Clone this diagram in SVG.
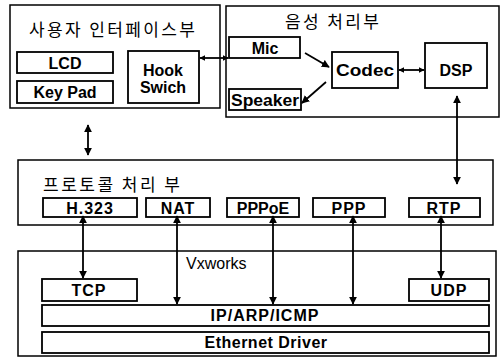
<svg xmlns="http://www.w3.org/2000/svg" width="504" height="359" viewBox="0 0 504 359">
<style>
.box{fill:#fff;stroke:#000;stroke-width:1.5}
.in{fill:#fff;stroke:#000;stroke-width:1.8}
.lbl{font-family:"Liberation Sans",Arial,sans-serif;font-weight:bold;font-size:16px;text-anchor:middle;fill:#000}
.ko{font-family:"Noto Sans CJK KR","Noto Sans",sans-serif;font-size:17px;fill:#000}
.plain{font-family:"Liberation Sans",Arial,sans-serif;font-size:16px;fill:#000}
.con{stroke:#000;stroke-width:1.8;fill:none}
</style>
<defs>
<marker id="ah" viewBox="0 0 10 10" refX="9" refY="5" markerWidth="6" markerHeight="6" markerUnits="userSpaceOnUse" orient="auto-start-reverse">
<path d="M0,0 L10,5 L0,10 z" fill="#000"/>
</marker>
<marker id="ah2" viewBox="0 0 10 10" refX="9" refY="5" markerWidth="8" markerHeight="8" markerUnits="userSpaceOnUse" orient="auto-start-reverse">
<path d="M0,0 L10,5 L0,10 z" fill="#000"/>
</marker>
</defs>

<g id="user-interface">
<rect class="box" x="10" y="5" width="210" height="103"/>
<text class="ko" x="29" y="36" textLength="166" lengthAdjust="spacing">사용자 인터페이스부</text>
</g>
<g id="lcd"><rect class="in" x="17" y="52" width="96" height="21"/><text class="lbl" x="65" y="68.5">LCD</text></g>
<g id="keypad"><rect class="in" x="17" y="81" width="96" height="22"/><text class="lbl" x="65" y="98">Key Pad</text></g>
<g id="hook"><rect class="in" x="128" y="51" width="71" height="52"/><text class="lbl" x="163" y="76">Hook</text><text class="lbl" x="163" y="93">Swich</text></g>

<g id="voice">
<rect class="box" x="226" y="6" width="273" height="111"/>
<text class="ko" x="285" y="28" textLength="94" lengthAdjust="spacing">음성 처리부</text>
</g>
<g id="mic"><rect class="in" x="229" y="37" width="71" height="21"/><text class="lbl" x="265" y="53.5">Mic</text></g>
<g id="speaker"><rect class="in" x="229" y="89" width="72" height="21"/><text class="lbl" x="265" y="105.5" textLength="68" lengthAdjust="spacingAndGlyphs">Speaker</text></g>
<g id="codec"><rect class="in" x="332" y="52" width="66" height="36"/><text class="lbl" x="365" y="76" textLength="58" lengthAdjust="spacingAndGlyphs">Codec</text></g>
<g id="dsp"><rect class="in" x="425" y="43" width="62" height="45"/><text class="lbl" x="456" y="76">DSP</text></g>

<g id="protocol">
<rect class="box" x="18" y="160" width="475" height="65"/>
<text class="ko" x="43" y="191" textLength="137" lengthAdjust="spacing">프로토콜 처리 부</text>
</g>
<g id="h323"><rect class="in" x="43" y="198" width="94" height="19"/><text class="lbl" x="90" y="213.5" letter-spacing="1">H.323</text></g>
<g id="nat"><rect class="in" x="146" y="198" width="64" height="19"/><text class="lbl" x="178" y="213.5" letter-spacing="1">NAT</text></g>
<g id="pppoe"><rect class="in" x="227" y="198" width="72" height="19"/><text class="lbl" x="263" y="213.5">PPPoE</text></g>
<g id="ppp"><rect class="in" x="313" y="198" width="72" height="19"/><text class="lbl" x="349" y="213.5" letter-spacing="1">PPP</text></g>
<g id="rtp"><rect class="in" x="409" y="198" width="71" height="19"/><text class="lbl" x="444" y="213.5" letter-spacing="1">RTP</text></g>

<g id="vxworks">
<rect class="box" x="18" y="251" width="478" height="105"/>
<text class="plain" x="186" y="269">Vxworks</text>
</g>
<g id="tcp"><rect class="in" x="42" y="279" width="95" height="22"/><text class="lbl" x="89" y="296" letter-spacing="1">TCP</text></g>
<g id="udp"><rect class="in" x="409" y="279" width="80" height="22"/><text class="lbl" x="449" y="296" letter-spacing="1">UDP</text></g>
<g id="ip"><rect class="in" x="42" y="305" width="447" height="21"/><text class="lbl" x="265" y="321" letter-spacing="1">IP/ARP/ICMP</text></g>
<g id="eth"><rect class="in" x="42" y="332" width="447" height="21"/><text class="lbl" x="266" y="348" letter-spacing="0.5">Ethernet Driver</text></g>

<g id="connectors">
<line class="con" x1="200" y1="58" x2="228" y2="58" marker-start="url(#ah)" marker-end="url(#ah)"/>
<line class="con" x1="399" y1="70" x2="424" y2="70" marker-start="url(#ah)" marker-end="url(#ah)"/>
<line class="con" x1="305" y1="53" x2="329" y2="67" marker-end="url(#ah2)"/>
<line class="con" x1="326" y1="82" x2="302" y2="103" marker-end="url(#ah2)"/>
<line class="con" x1="88" y1="125" x2="88" y2="155" marker-start="url(#ah2)" marker-end="url(#ah2)"/>
<line class="con" x1="457" y1="96" x2="457" y2="184" marker-start="url(#ah2)" marker-end="url(#ah2)"/>
<line class="con" x1="83" y1="216" x2="83" y2="278" marker-start="url(#ah2)" marker-end="url(#ah2)"/>
<line class="con" x1="177" y1="216" x2="177" y2="304" marker-start="url(#ah2)" marker-end="url(#ah2)"/>
<line class="con" x1="273" y1="216" x2="273" y2="304" marker-start="url(#ah2)" marker-end="url(#ah2)"/>
<line class="con" x1="353" y1="216" x2="353" y2="304" marker-start="url(#ah2)" marker-end="url(#ah2)"/>
<line class="con" x1="441" y1="216" x2="441" y2="278" marker-start="url(#ah2)" marker-end="url(#ah2)"/>
</g>
</svg>
